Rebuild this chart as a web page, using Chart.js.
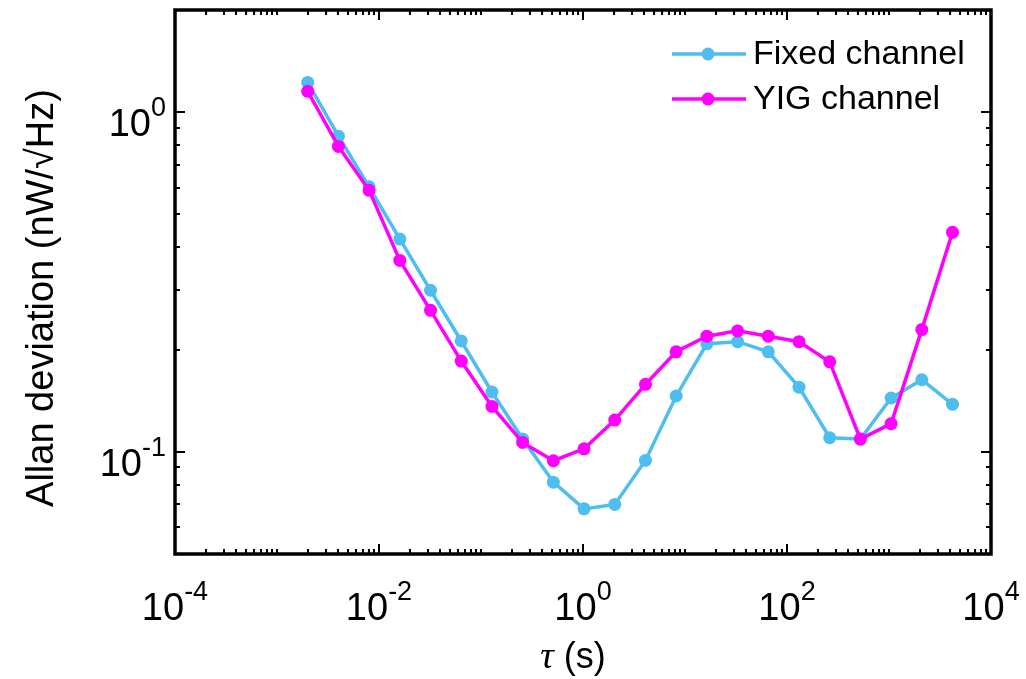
<!DOCTYPE html>
<html>
<head>
<meta charset="utf-8">
<script src="https://cdn.jsdelivr.net/npm/chart.js@4"></script>
<style>
  body { margin: 0; background: #fff; }
  canvas { display: block; }
</style>
</head>
<body>
<canvas id="my-chart" width="1026" height="679"></canvas>
<script>
// averaging time tau (s)
const tau = [0.002, 0.004, 0.008, 0.016, 0.032, 0.064, 0.128, 0.256, 0.512, 1.024, 2.048,
  4.096, 8.192, 16.384, 32.768, 65.536, 131.072, 262.144, 524.288, 1048.576, 2097.152, 4194.304];

// Allan deviation (nW/sqrt(Hz))
const fixedChannel = [1.224, 0.850, 0.603, 0.423, 0.299, 0.212, 0.150, 0.109, 0.0814, 0.0679, 0.070,
  0.0943, 0.146, 0.208, 0.211, 0.197, 0.155, 0.110, 0.109, 0.144, 0.163, 0.138];
const yigChannel = [1.152, 0.793, 0.589, 0.366, 0.261, 0.185, 0.136, 0.1065, 0.0941, 0.102, 0.124,
  0.158, 0.197, 0.219, 0.227, 0.219, 0.211, 0.184, 0.109, 0.121, 0.229, 0.443];

const seriesNames = ["Fixed channel", "YIG channel"];
const seriesColors = ["#4DBEEE", "#FF00FF"];

const xLabelExps = [-4, -2, 0, 2, 4];
const yLabelExps = [-1, 0];

const FONT = "'Liberation Sans', Arial, sans-serif";

function toPoints(values) {
  return tau.map((t, i) => ({ x: t, y: values[i] }));
}

// draw "10" with a raised exponent, anchored by align
function drawPower(ctx, exp, x, baseY, align) {
  const base = "10";
  const sup = String(exp);
  ctx.font = "38px " + FONT;
  const wb = ctx.measureText(base).width;
  ctx.font = "27px " + FONT;
  const ws = ctx.measureText(sup).width;
  const total = wb + ws;
  let left = x;
  if (align === "center") left = x - total / 2;
  if (align === "right") left = x - total;
  ctx.textAlign = "left";
  ctx.textBaseline = "alphabetic";
  ctx.font = "38px " + FONT;
  ctx.fillText(base, left, baseY);
  ctx.font = "27px " + FONT;
  ctx.fillText(sup, left + wb, baseY - 20);
}

const framePlugin = {
  id: "frame",
  afterDraw(chart) {
    const { ctx, chartArea: a, scales } = chart;
    const xs = scales.x;
    const ys = scales.y;
    ctx.save();
    ctx.strokeStyle = "#000";
    ctx.fillStyle = "#000";

    // inward ticks on all four sides
    ctx.lineWidth = 2;
    ctx.beginPath();
    for (let n = -4; n <= 4; n++) {
      for (let m = 1; m <= 9; m++) {
        const v = m * Math.pow(10, n);
        if (v > 1e4 * 1.0001) break;
        const px = Math.round(xs.getPixelForValue(v));
        const len = (m === 1 && xLabelExps.includes(n)) ? 10 : 5;
        ctx.moveTo(px, a.bottom); ctx.lineTo(px, a.bottom - len);
        ctx.moveTo(px, a.top); ctx.lineTo(px, a.top + len);
      }
    }
    for (let n = -2; n <= 0; n++) {
      for (let m = 1; m <= 9; m++) {
        const v = m * Math.pow(10, n);
        if (v < 0.05 - 1e-9 || v > 2 + 1e-9) continue;
        const py = Math.round(ys.getPixelForValue(v));
        const len = (m === 1) ? 10 : 5;
        ctx.moveTo(a.left, py); ctx.lineTo(a.left + len, py);
        ctx.moveTo(a.right, py); ctx.lineTo(a.right - len, py);
      }
    }
    ctx.stroke();

    // box
    ctx.lineWidth = 3.5;
    ctx.strokeRect(a.left, a.top, a.right - a.left, a.bottom - a.top);

    // tick labels
    xLabelExps.forEach(n => {
      drawPower(ctx, n, xs.getPixelForValue(Math.pow(10, n)), a.bottom + 66, "center");
    });
    yLabelExps.forEach(n => {
      drawPower(ctx, n, a.left - 9, ys.getPixelForValue(Math.pow(10, n)) + 24, "right");
    });

    // x title: tau (s)
    ctx.textBaseline = "alphabetic";
    ctx.font = "italic 38px 'Liberation Serif', serif";
    const tw = ctx.measureText("τ").width;
    ctx.font = "36px " + FONT;
    const sw = ctx.measureText(" (s)").width;
    const cx = (a.left + a.right) / 2 - 10;
    const lx = cx - (tw + sw) / 2;
    ctx.textAlign = "left";
    ctx.font = "italic 38px 'Liberation Serif', serif";
    ctx.fillText("τ", lx, 668);
    ctx.font = "36px " + FONT;
    ctx.fillText(" (s)", lx + tw, 668);

    // y title
    ctx.save();
    ctx.translate(53, 298);
    ctx.rotate(-Math.PI / 2);
    ctx.textAlign = "center";
    ctx.textBaseline = "alphabetic";
    ctx.font = "38px " + FONT;
    ctx.fillText("Allan deviation (nW/√Hz)", 0, 0);
    ctx.restore();

    // legend
    const rows = [54, 99];
    seriesNames.forEach((name, i) => {
      const y = rows[i];
      ctx.strokeStyle = seriesColors[i];
      ctx.fillStyle = seriesColors[i];
      ctx.lineWidth = 3.5;
      ctx.beginPath();
      ctx.moveTo(672, y); ctx.lineTo(746, y);
      ctx.stroke();
      ctx.beginPath();
      ctx.arc(708, y, 6.5, 0, Math.PI * 2);
      ctx.fill();
      ctx.fillStyle = "#000";
      ctx.font = "34px " + FONT;
      ctx.textAlign = "left";
      ctx.textBaseline = "middle";
      ctx.fillText(name, 753, y + 1);
    });
    ctx.restore();
  }
};

const ctx = document.getElementById("my-chart").getContext("2d");

const myChart = new Chart(ctx, {
  type: "line",
  data: {
    datasets: [
      {
        label: seriesNames[0],
        data: toPoints(fixedChannel),
        borderColor: seriesColors[0],
        backgroundColor: seriesColors[0],
        borderWidth: 3.5,
        pointRadius: 6.5,
        pointBorderWidth: 0,
        order: 1
      },
      {
        label: seriesNames[1],
        data: toPoints(yigChannel),
        borderColor: seriesColors[1],
        backgroundColor: seriesColors[1],
        borderWidth: 3.5,
        pointRadius: 6.5,
        pointBorderWidth: 0,
        order: 0
      }
    ]
  },
  options: {
    responsive: false,
    animation: false,
    layout: { padding: { left: 175, top: 10, right: 35, bottom: 125 } },
    plugins: {
      legend: { display: false },
      tooltip: { enabled: false }
    },
    scales: {
      x: { type: "logarithmic", min: 1e-4, max: 1e4, display: false },
      y: { type: "logarithmic", min: 0.05, max: 2, display: false }
    }
  },
  plugins: [framePlugin]
});
</script>
</body>
</html>
